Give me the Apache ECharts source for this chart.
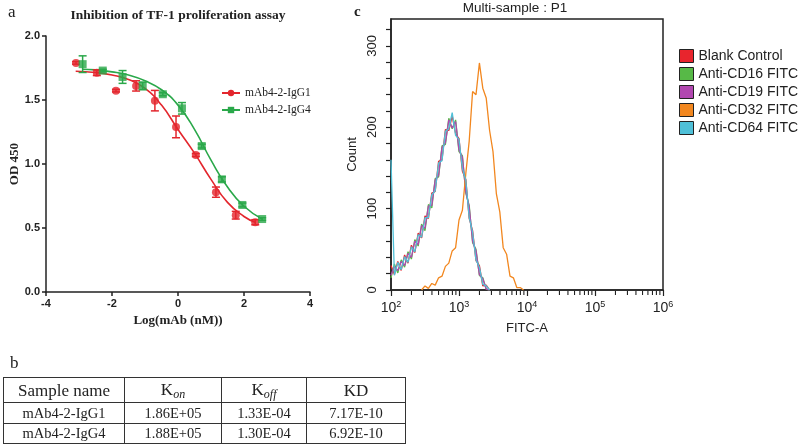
<!DOCTYPE html>
<html><head><meta charset="utf-8">
<script src="https://cdn.jsdelivr.net/npm/echarts@6/dist/echarts.min.js"></script>
<style>
html,body{margin:0;padding:0;background:#fff;}
#chart{position:absolute;left:0;top:0;width:800px;height:446px;}
#tbl{position:absolute;left:3px;top:377px;border-collapse:collapse;table-layout:fixed;font-family:'Liberation Serif',serif;color:#222;}
#tbl td{border:1.5px solid #333;text-align:center;padding:0;line-height:1;}
#tbl tr.h td{height:24px;font-size:17px;}
#tbl tr.r td{height:19.5px;font-size:14.5px;}
#tbl sub{font-style:italic;font-size:12px;vertical-align:-3px;}
</style></head>
<body>
<div id="chart"></div>
<table id="tbl"></table>
<script>
// ---------- Panel a data ----------
const logG1 = [-3.09,-2.46,-1.88,-1.27,-0.70,-0.06,0.54,1.15,1.75,2.34];
const odG1  = [1.79,1.713,1.573,1.61,1.495,1.29,1.07,0.78,0.60,0.545];
const semG1 = [0.01,0.022,0.01,0.04,0.08,0.085,0.012,0.04,0.03,0.02];
const logG4 = [-2.89,-2.28,-1.68,-1.07,-0.46,0.12,0.72,1.33,1.95,2.55];
const odG4  = [1.78,1.73,1.68,1.61,1.545,1.435,1.14,0.88,0.68,0.57];
const semG4 = [0.065,0.01,0.05,0.03,0.012,0.045,0.015,0.02,0.015,0.01];
const fitXG1 = [-3.1,-2.5,-2.0,-1.5,-1.0,-0.5,0.0,0.5,1.0,1.5,2.0,2.34];
const fitYG1 = [1.725,1.715,1.695,1.66,1.59,1.46,1.27,1.085,0.88,0.70,0.59,0.545];
const fitXG4 = [-2.9,-2.5,-2.0,-1.5,-1.0,-0.5,0.0,0.5,1.0,1.5,2.0,2.55];
const fitYG4 = [1.74,1.735,1.72,1.695,1.65,1.58,1.46,1.27,1.03,0.82,0.67,0.57];
const nameG1 = 'mAb4-2-IgG1', nameG4 = 'mAb4-2-IgG4';

// ---------- Panel c data ----------
const histNames = ['Blank Control','Anti-CD16 FITC','Anti-CD19 FITC','Anti-CD32 FITC','Anti-CD64 FITC'];
const histColors = ['#e8252d','#57b947','#b147b0','#f2871f','#4fc0d8'];
const binsLow = [2.00,2.05,2.10,2.15,2.20,2.25,2.30,2.35,2.40,2.45,2.50,2.55,2.60,2.65,2.70,2.75,2.80,2.85,2.90,2.95,3.00,3.05,3.10,3.15,3.20,3.25,3.30,3.35,3.40,3.45];
const countBlank = [30,19,35,24,43,33,55,46,70,64,91,88,119,121,158,160,197,196,214,192,186,146,136,88,73,36,30,5,6,0];
const countCD16  = [15,32,21,37,28,47,38,62,54,81,73,105,101,137,139,177,179,211,198,209,170,165,119,104,58,50,18,15,1,0];
const countCD19  = [18,29,24,35,30,45,40,60,56,79,76,103,104,135,141,175,181,209,199,207,172,163,121,102,60,48,19,14,1,0];
const countCD64  = [160,18,34,25,41,34,53,47,68,65,89,89,117,122,156,159,195,198,218,190,185,149,135,89,71,37,28,7,5,0];
const binsCD32 = [2.45,2.50,2.55,2.60,2.65,2.70,2.75,2.80,2.85,2.90,2.95,3.00,3.05,3.10,3.15,3.20,3.25,3.30,3.35,3.40,3.45,3.50,3.55,3.60,3.65,3.70,3.75,3.80,3.85,3.90,3.95];
const countCD32 = [0,5,2,8,6,15,17,29,33,48,52,86,98,143,183,244,240,279,248,236,196,170,118,96,52,44,17,15,3,3,0];

// ---------- Panel b data ----------
const tableHeader = ['Sample name','K<sub>on</sub>','K<sub>off</sub>','KD'];
const tableSamples = ['mAb4-2-IgG1','mAb4-2-IgG4'];
const tableKon = ['1.86E+05','1.88E+05'];
const tableKoff = ['1.33E-04','1.30E-04'];
const tableKD = ['7.17E-10','6.92E-10'];

// build table
(function(){
  const t = document.getElementById('tbl');
  const widths = [121,97,85,99];
  let html = '<colgroup>' + widths.map(w=>'<col style="width:'+w+'px">').join('') + '</colgroup>';
  html += '<tr class="h">' + tableHeader.map(h=>'<td>'+h+'</td>').join('') + '</tr>';
  for (let i=0;i<tableSamples.length;i++){
    html += '<tr class="r"><td>'+tableSamples[i]+'</td><td>'+tableKon[i]+'</td><td>'+tableKoff[i]+'</td><td>'+tableKD[i]+'</td></tr>';
  }
  t.innerHTML = html;
})();

const zip = (a,b)=>a.map((v,i)=>[v,b[i]]);
const SERIF = 'Liberation Serif', SANS = 'Liberation Sans';
const redA = '#e3262d', greenA = '#2aa84a';

function errSeries(xs, ys, sem, color){
  return {
    type:'custom', xAxisIndex:0, yAxisIndex:0, z:3,
    data: xs.map((x,i)=>[x, ys[i]-sem[i], ys[i]+sem[i]]),
    renderItem: function(params, api){
      const p1 = api.coord([api.value(0), api.value(1)]);
      const p2 = api.coord([api.value(0), api.value(2)]);
      const w = 4, st = {stroke: color, lineWidth: 1.5};
      return {type:'group', children:[
        {type:'line', shape:{x1:p1[0],y1:p1[1],x2:p2[0],y2:p2[1]}, style:st},
        {type:'line', shape:{x1:p1[0]-w,y1:p1[1],x2:p1[0]+w,y2:p1[1]}, style:st},
        {type:'line', shape:{x1:p2[0]-w,y1:p2[1],x2:p2[0]+w,y2:p2[1]}, style:st}
      ]};
    }
  };
}

const minorLog = [];
for (let d=2; d<6; d++) for (let k=2; k<10; k++) minorLog.push(Math.log10(k*Math.pow(10,d)));

const histSeries = [
  {name:histNames[0], data: zip(binsLow, countBlank), color: histColors[0]},
  {name:histNames[1], data: zip(binsLow, countCD16), color: histColors[1]},
  {name:histNames[2], data: zip(binsLow, countCD19), color: histColors[2]},
  {name:histNames[3], data: zip(binsCD32, countCD32), color: histColors[3]},
  {name:histNames[4], data: zip(binsLow, countCD64), color: histColors[4]}
].map(s=>({
  type:'line', name:s.name, xAxisIndex:1, yAxisIndex:1, data:s.data,
  symbol:'none', showSymbol:false, itemStyle:{color:s.color},
  lineStyle:{color:s.color, width:1.3}, z:2
}));

const axisLineA = {show:true, onZero:false, lineStyle:{color:'#222', width:1.5}};
const chart = echarts.init(document.getElementById('chart'), null, {renderer:'canvas'});
chart.setOption({
  animation:false,
  backgroundColor:'#fff',
  grid:[
    {left:46, top:36, width:264, height:256},
    {left:391, top:19, width:272, height:271, show:true, borderColor:'#222', borderWidth:1.5, backgroundColor:'transparent'}
  ],
  xAxis:[
    {gridIndex:0, type:'value', min:-4, max:4, interval:2,
     axisLine:axisLineA, axisTick:{show:true, length:4, lineStyle:{color:'#222', width:1.5}},
     splitLine:{show:false},
     axisLabel:{margin:6, fontFamily:SANS, fontWeight:'bold', fontSize:11, color:'#222'},
     name:'Log(mAb (nM))', nameLocation:'middle', nameGap:19,
     nameTextStyle:{fontFamily:SERIF, fontWeight:'bold', fontSize:13, color:'#222'}},
    {gridIndex:1, type:'value', min:2, max:6, interval:1,
     axisLine:{show:true, onZero:false, lineStyle:{color:'#222', width:1.5}},
     axisTick:{show:true, length:6, lineStyle:{color:'#222', width:1.2}},
     splitLine:{show:false},
     axisLabel:{margin:10, color:'#222', formatter: v=>'{b|10}{s|'+v+'}',
       rich:{b:{fontFamily:SANS, fontSize:14, lineHeight:16, color:'#222'}, s:{fontFamily:SANS, fontSize:9, lineHeight:9, verticalAlign:'top', color:'#222'}}},
     name:'FITC-A', nameLocation:'middle', nameGap:32,
     nameTextStyle:{fontFamily:SANS, fontSize:13, color:'#222'}}
  ],
  yAxis:[
    {gridIndex:0, type:'value', min:0, max:2, interval:0.5,
     axisLine:axisLineA, axisTick:{show:true, length:4, lineStyle:{color:'#222', width:1.5}},
     splitLine:{show:false},
     axisLabel:{margin:6, fontFamily:SANS, fontWeight:'bold', fontSize:11, color:'#222', formatter:v=>v.toFixed(1)},
     name:'OD 450', nameLocation:'middle', nameGap:24, nameRotate:90,
     nameTextStyle:{fontFamily:SERIF, fontWeight:'bold', fontSize:13, color:'#222'}},
    {gridIndex:1, type:'value', min:0, max:333, interval:20,
     axisLine:{show:true, onZero:false, lineStyle:{color:'#222', width:1.5}},
     axisTick:{show:true, length:5, lineStyle:{color:'#222', width:1.2}},
     splitLine:{show:false},
     axisLabel:{margin:12, rotate:90, fontFamily:SANS, fontSize:13, color:'#222', showMaxLabel:false,
       formatter:v=>(v%100===0 ? String(v) : '')},
     name:'Count', nameLocation:'middle', nameGap:32, nameRotate:90,
     nameTextStyle:{fontFamily:SANS, fontSize:13, color:'#222'}}
  ],
  legend:[
    {data:[nameG1, nameG4], left:216, top:82, orient:'vertical', itemWidth:18, itemHeight:8, itemGap:5,
     textStyle:{fontFamily:SERIF, fontSize:11.5, color:'#222'}},
    {data:histNames, left:674, top:44, orient:'vertical', itemWidth:14, itemHeight:13, itemGap:4, icon:'rect',
     itemStyle:{borderColor:'#222', borderWidth:1},
     textStyle:{fontFamily:SANS, fontSize:14, color:'#222'}}
  ],
  graphic:[
    {type:'text', left:8, top:4, style:{text:'a', font:'17px "Liberation Serif"', fill:'#222'}},
    {type:'text', left:10, top:355, style:{text:'b', font:'17px "Liberation Serif"', fill:'#222'}},
    {type:'text', left:354, top:5, style:{text:'c', font:'bold 15px "Liberation Serif"', fill:'#222'}},
    {type:'text', x:178, y:16, style:{text:'Inhibition of TF-1 proliferation assay', font:'bold 13.5px "Liberation Serif"', fill:'#222', align:'center', verticalAlign:'middle'}},
    {type:'text', x:515, y:8, style:{text:'Multi-sample : P1', font:'13.5px "Liberation Sans"', fill:'#222', align:'center', verticalAlign:'middle'}}
  ],
  series:[
    {type:'line', name:nameG1, xAxisIndex:0, yAxisIndex:0, data:zip(fitXG1, fitYG1), smooth:true,
     symbol:'circle', symbolSize:8, showSymbol:false, itemStyle:{color:redA}, lineStyle:{color:redA, width:1.6}, z:2},
    {type:'line', name:nameG4, xAxisIndex:0, yAxisIndex:0, data:zip(fitXG4, fitYG4), smooth:true,
     symbol:'rect', symbolSize:8, showSymbol:false, itemStyle:{color:greenA}, lineStyle:{color:greenA, width:1.6}, z:2},
    errSeries(logG1, odG1, semG1, redA),
    errSeries(logG4, odG4, semG4, greenA),
    {type:'scatter', name:'G1pts', xAxisIndex:0, yAxisIndex:0, data:zip(logG1, odG1), symbol:'circle', symbolSize:8, itemStyle:{color:redA}, z:4},
    {type:'scatter', name:'G4pts', xAxisIndex:0, yAxisIndex:0, data:zip(logG4, odG4), symbol:'rect', symbolSize:8, itemStyle:{color:greenA}, z:4},
    ...histSeries,
    {type:'custom', name:'minorTicks', xAxisIndex:1, yAxisIndex:1, data:minorLog.map(v=>[v,0]), clip:false, z:5,
     renderItem:function(params, api){
       const p = api.coord([api.value(0), 0]);
       return {type:'line', shape:{x1:p[0], y1:p[1]+1, x2:p[0], y2:p[1]+5}, style:{stroke:'#222', lineWidth:1.1}};
     }}
  ]
});
</script>
</body></html>
